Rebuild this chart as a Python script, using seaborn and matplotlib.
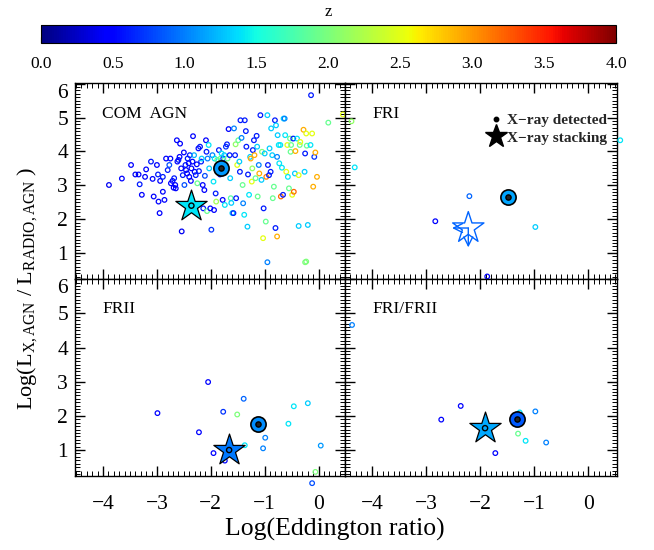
import numpy as np
import pandas as pd
import matplotlib
matplotlib.use("Agg")
import matplotlib.pyplot as plt
import seaborn as sns
from matplotlib.ticker import MultipleLocator
from matplotlib.lines import Line2D
from matplotlib.colors import Normalize
from matplotlib.cm import ScalarMappable

# ---------------- data ----------------
# COM AGN panel: log(Eddington ratio), log(Lx/Lradio), redshift
com_x = [-3.89, -3.65, -3.48, -3.40, -3.34, -3.32, -3.28, -3.22, -3.20, -3.11,
         -3.08, -3.06, -3.00, -2.98, -2.97, -2.95, -2.94, -2.89, -2.89, -2.86,
         -2.83, -2.80, -2.77, -2.75, -2.74, -2.71, -2.69, -2.68, -2.66, -2.65,
         -2.63, -2.62, -2.60, -2.58, -2.57, -2.55, -2.54, -2.52, -2.50, -2.49,
         -2.47, -2.46, -2.44, -2.43, -2.41, -2.40, -2.39, -2.37, -2.36, -2.34,
         -2.33, -2.31, -2.30, -2.28, -2.26, -2.25, -2.23, -2.22, -2.20, -2.18,
         -2.17, -2.15, -2.14, -2.12, -2.11, -2.09, -2.08, -2.07, -2.06, -2.04,
         -2.03, -2.01, -1.99, -1.97, -1.95, -1.94, -1.93, -1.91, -1.90, -1.88,
         -1.85, -1.83, -1.82, -1.80, -1.78, -1.77, -1.75, -1.74, -1.72, -1.70,
         -1.69, -1.67, -1.65, -1.64, -1.63, -1.62, -1.60, -1.58, -1.57, -1.55,
         -1.54, -1.53, -1.51, -1.49, -1.47, -1.46, -1.45, -1.43, -1.41, -1.40,
         -1.38, -1.37, -1.35, -1.34, -1.32, -1.31, -1.29, -1.27, -1.26, -1.24,
         -1.23, -1.22, -1.20, -1.19, -1.17, -1.15, -1.14, -1.13, -1.11, -1.10,
         -1.08, -1.06, -1.05, -1.03, -1.02, -1.00, -0.98, -0.97, -0.95, -0.94,
         -0.92, -0.91, -0.89, -0.88, -0.86, -0.85, -0.83, -0.81, -0.80, -0.79,
         -0.77, -0.77, -0.76, -0.74, -0.73, -0.71, -0.70, -0.68, -0.66, -0.65,
         -0.63, -0.62, -0.60, -0.58, -0.57, -0.55, -0.53, -0.52, -0.51, -0.49,
         -0.47, -0.46, -0.44, -0.43, -0.40, -0.37, -0.35, -0.34, -0.37, -0.28,
         -0.26, -0.25, -0.23, -0.22, -0.23, -0.20, -0.15, -0.14, -0.12, -0.10,
         -0.08, -0.06, -0.03, 0.18, 0.45, -0.95, -0.25]
com_y = [3.01, 3.20, 3.60, 3.32, 3.32, 3.03, 2.72, 3.25, 3.47, 3.70,
         3.19, 2.67, 3.60, 3.32, 2.52, 2.18, 3.13, 3.25, 2.81, 2.57,
         3.79, 3.45, 3.60, 3.79, 3.06, 3.13, 2.93, 3.21, 3.01, 2.91,
         4.33, 3.70, 3.75, 3.84, 4.23, 3.50, 1.64, 3.30, 3.97, 3.01,
         3.60, 3.45, 3.35, 3.79, 3.65, 3.25, 3.89, 3.13, 3.50, 3.70,
         4.45, 3.89, 3.40, 3.30, 3.62, 3.06, 4.09, 3.42, 4.14, 3.70,
         3.79, 3.01, 2.32, 2.86, 3.28, 4.33, 3.99, 2.24, 3.79, 4.19,
         3.50, 2.32, 1.69, 3.89, 3.11, 2.27, 3.79, 2.76, 2.52, 3.75,
         4.04, 3.32, 3.79, 3.94, 2.57, 3.79, 3.89, 2.42, 4.14, 4.21,
         3.79, 4.66, 3.89, 3.21, 2.62, 2.48, 2.18, 2.18, 4.68, 3.89,
         4.21, 2.62, 3.60, 4.33, 3.70, 3.40, 4.92, 4.40, 3.01, 2.47,
         2.13, 4.92, 4.60, 4.14, 1.78, 3.32, 2.72, 3.84, 3.79, 3.11,
         3.50, 4.04, 4.33, 3.89, 3.21, 4.46, 4.14, 2.67, 3.60, 3.35,
         5.07, 3.16, 3.99, 1.44, 2.32, 3.94, 1.93, 3.25, 5.07, 3.60,
         3.30, 4.09, 3.40, 4.68, 3.89, 2.62, 2.96, 4.92, 1.74, 4.77,
         1.49, 3.84, 4.48, 4.19, 3.65, 4.19, 2.67, 3.52, 2.72, 4.97,
         4.97, 4.48, 3.40, 4.19, 3.25, 2.91, 4.38, 3.99, 4.19, 2.72,
         4.38, 2.81, 3.35, 4.01, 4.38, 3.30, 4.19, 4.28, 1.80, 4.64,
         3.40, 3.94, 4.53, 4.17, 0.75, 1.83, 4.19, 5.66, 4.53, 2.96,
         3.84, 3.97, 3.25, 4.85, 5.09, 0.73, 0.73]
com_z = [0.4, 0.5, 0.5, 0.4, 0.5, 0.6, 0.5, 0.5, 0.5, 0.6,
         0.5, 0.5, 0.5, 0.6, 0.5, 0.5, 0.5, 0.6, 0.5, 0.5,
         0.5, 0.6, 0.8, 0.5, 0.5, 0.5, 0.5, 0.6, 0.5, 0.5,
         0.5, 0.5, 0.6, 0.5, 0.5, 0.5, 0.4, 0.6, 0.5, 0.8,
         0.6, 0.5, 0.5, 0.6, 0.5, 0.5, 0.6, 0.5, 0.5, 0.5,
         0.5, 1.2, 0.5, 0.6, 0.5, 1.9, 0.5, 0.6, 0.6, 0.6,
         1.3, 0.5, 0.6, 0.5, 0.8, 0.5, 0.6, 1.9, 1.0, 1.4,
         1.3, 0.5, 0.7, 1.0, 1.4, 0.5, 1.4, 0.6, 2.2, 1.9,
         0.6, 0.6, 1.9, 1.4, 0.5, 0.7, 1.3, 1.4, 0.7, 0.6,
         1.9, 0.5, 0.6, 1.3, 1.8, 1.3, 1.3, 0.6, 1.0, 0.6,
         2.1, 0.6, 2.5, 1.9, 1.3, 0.6, 0.6, 1.0, 1.9, 1.0,
         1.4, 0.6, 0.6, 0.6, 1.3, 0.6, 1.4, 1.3, 2.9, 2.5,
         2.1, 0.6, 0.6, 2.9, 1.9, 0.6, 1.3, 1.9, 1.0, 2.9,
         0.6, 1.3, 2.0, 2.5, 0.6, 1.3, 1.9, 3.1, 1.3, 0.6,
         0.6, 1.3, 0.6, 1.3, 1.3, 1.9, 1.9, 0.6, 0.6, 1.3,
         2.9, 1.0, 1.3, 1.4, 1.4, 1.4, 3.2, 1.4, 0.6, 1.3,
         1.0, 1.4, 2.5, 2.5, 1.4, 1.9, 1.9, 1.9, 1.9, 2.5,
         0.6, 3.2, 1.3, 2.9, 1.4, 2.5, 1.9, 2.5, 1.3, 2.9,
         1.3, 0.6, 2.5, 1.9, 2.0, 1.3, 1.4, 0.6, 2.5, 2.9,
         0.7, 2.9, 2.9, 1.9, 2.5, 1.0, 2.0]

# FRI panel
fri_x = [-4.38, -4.32, 0.59, -2.20, -2.83, -0.98, -1.87]
fri_y = [4.89, 3.53, 4.33, 2.68, 1.94, 1.77, 0.31]
fri_z = [2.1, 1.4, 1.4, 0.9, 0.5, 1.3, 0.5]

# FRII panel
frii_x = [-2.99, -2.05, -2.22, -1.77, -1.95, -1.74, -1.39, -1.51, -1.37,
          -0.99, -1.03, -0.56, -0.46, -0.20, 0.04, -0.06, -0.12]
frii_y = [2.08, 2.99, 1.52, 2.12, 0.91, 0.69, 2.50, 2.04, 1.14,
          1.36, 1.05, 1.77, 2.28, 2.37, 1.13, 0.36, 0.03]
frii_z = [0.5, 0.5, 0.5, 0.7, 0.5, 0.5, 0.9, 2.0, 1.4,
          1.0, 1.0, 1.4, 1.4, 1.3, 1.1, 2.0, 0.8]

# FRI/FRII panel
mix_x = [-4.37, -2.36, -2.72, -1.27, -0.98, -1.30, -1.16, -0.78, -1.72]
mix_y = [4.66, 2.29, 1.89, 2.10, 2.13, 1.48, 1.27, 1.22, 0.91]
mix_z = [1.0, 0.5, 0.5, 1.4, 1.0, 1.9, 1.4, 1.0, 0.5]

panel_names = ["COM  AGN", "FRI", "FRII", "FRI/FRII"]
# X-ray detected (stacked mean) points
det_x = [-1.81, -1.49, -1.13, -1.32]
det_y = [3.50, 2.67, 1.76, 1.90]
det_z = [1.1, 1.15, 1.05, 0.85]
# X-ray stacking points
stk_x = [-2.36, -2.22, -1.66, -1.91]
stk_y = [2.40, 1.74, 1.00, 1.64]
stk_z = [1.4, 0.9, 0.97, 1.16]
stk_upper = [False, True, False, False]
ul_dx = 0.30   # upper-limit arrow lengths
ul_dy = 0.57

cbar_ticks = [0.0, 0.5, 1.0, 1.5, 2.0, 2.5, 3.0, 3.5, 4.0]

# ---------------- style ----------------
sns.set_theme(style="white")
plt.rcParams["font.family"] = ["Liberation Serif", "DejaVu Serif"]
plt.rcParams["mathtext.fontset"] = "custom"
plt.rcParams["mathtext.rm"] = "Liberation Serif"
plt.rcParams["mathtext.it"] = "Liberation Serif:italic"
plt.rcParams["axes.edgecolor"] = "black"
plt.rcParams["axes.linewidth"] = 1.0

norm = Normalize(0, 4)
cmap = plt.get_cmap("jet")

fig = plt.figure(figsize=(6.54, 5.5), dpi=100)
W, H = 654.0, 550.0
L, M, R = 75 / W, 345 / W, 617 / W
T, D, B = 1 - 83 / H, 1 - 278.5 / H, 1 - 476 / H
positions = [[L, D, M - L, T - D], [M, D, R - M, T - D],
             [L, B, M - L, D - B], [M, B, R - M, D - B]]
xlims = [(-4.52, 0.49), (-4.50, 0.53), (-4.52, 0.49), (-4.50, 0.53)]
ylims = [(0.25, 6.02), (0.25, 6.02), (0.24, 6.02), (0.24, 6.02)]
scatter_sets = [(com_x, com_y, com_z), (fri_x, fri_y, fri_z),
                (frii_x, frii_y, frii_z), (mix_x, mix_y, mix_z)]


def open_points(ax, x, y, z, marker="o", s=11, lw=0.9, zorder=3):
    df = pd.DataFrame({"x": x, "y": y, "z": z})
    n0 = len(ax.collections)
    sns.scatterplot(data=df, x="x", y="y", hue="z", palette=cmap,
                    hue_norm=norm, s=s, marker=marker, linewidth=lw,
                    legend=False, ax=ax, clip_on=False, zorder=zorder)
    coll = ax.collections[n0]
    fc = coll.get_facecolors()
    coll.set_edgecolors(fc)
    coll.set_facecolors("none")
    coll.set_linewidths(lw)


def filled_point(ax, x, y, z, marker, s, lw, zorder):
    df = pd.DataFrame({"x": [x], "y": [y], "z": [z]})
    sns.scatterplot(data=df, x="x", y="y", hue="z", palette=cmap,
                    hue_norm=norm, s=s, marker=marker, edgecolor="black",
                    linewidth=lw, legend=False, ax=ax, clip_on=False,
                    zorder=zorder)


axes = []
for i in range(4):
    ax = fig.add_axes(positions[i])
    axes.append(ax)
    xs, ys, zs = scatter_sets[i]
    open_points(ax, xs, ys, zs)

    # X-ray detected circle
    filled_point(ax, det_x[i], det_y[i], det_z[i], "o", 120, 1.2, 6)
    ax.scatter([det_x[i]], [det_y[i]], s=14, facecolors="#222222",
               edgecolors="black", linewidths=1.0, zorder=7)

    # X-ray stacking star
    if stk_upper[i]:
        col = cmap(norm(stk_z[i]))
        open_points(ax, [stk_x[i]], [stk_y[i]], [stk_z[i]], marker="*",
                    s=560, lw=1.0, zorder=6)
        ax.annotate("", xy=(stk_x[i] - ul_dx, stk_y[i]),
                    xytext=(stk_x[i], stk_y[i]),
                    arrowprops=dict(arrowstyle="->", color=col, lw=1.0,
                                    mutation_scale=16, shrinkA=0, shrinkB=0),
                    zorder=6)
        ax.annotate("", xy=(stk_x[i], stk_y[i] - ul_dy),
                    xytext=(stk_x[i], stk_y[i]),
                    arrowprops=dict(arrowstyle="->", color=col, lw=1.0,
                                    mutation_scale=16, shrinkA=0, shrinkB=0),
                    zorder=6)
    else:
        filled_point(ax, stk_x[i], stk_y[i], stk_z[i], "*", 560, 0.9, 6)
        ax.scatter([stk_x[i]], [stk_y[i]], s=14, facecolors="none",
                   edgecolors="black", linewidths=1.0, zorder=7)

    ax.set_xlim(*xlims[i])
    ax.set_ylim(*ylims[i])
    ax.set_xlabel("")
    ax.set_ylabel("")
    ax.xaxis.set_major_locator(MultipleLocator(1))
    ax.xaxis.set_minor_locator(MultipleLocator(0.1))
    ax.set_yticks([1, 2, 3, 4, 5, 6])
    ax.yaxis.set_minor_locator(MultipleLocator(0.1))
    ax.tick_params(which="both", direction="in", top=True, right=True,
                   bottom=True, left=True, colors="black")
    ax.tick_params(which="major", length=7, width=1.0)
    ax.tick_params(which="minor", length=3.5, width=0.7)
    ax.tick_params(axis="x", labelsize=15.5, pad=14)
    ax.tick_params(axis="y", labelsize=15.5, pad=5)
    if i in (0, 2):
        ax.set_yticklabels(["1", "2", "3", "4", "5", "6"])
        for lbl in ax.get_yticklabels():
            if lbl.get_text() == "6":
                lbl.set_verticalalignment("top")
    else:
        ax.tick_params(axis="y", labelleft=False)
    if i in (0, 1):
        ax.tick_params(axis="x", labelbottom=False)
    for sp in ax.spines.values():
        sp.set_color("black")
        sp.set_linewidth(1.0)
    ax.text(0.1, 0.823, panel_names[i], transform=ax.transAxes,
            fontsize=12.5, va="baseline", ha="left", color="black")

# legend in FRI panel
handles = [Line2D([], [], marker="o", color="black", ls="", ms=3.2),
           Line2D([], [], marker="*", color="black", ls="", ms=17)]
axes[1].legend(handles, ["X\u2212ray detected", "X\u2212ray stacking"],
               loc="upper right", bbox_to_anchor=(0.965, 0.845),
               frameon=False, borderpad=0, borderaxespad=0,
               handletextpad=0.25, handlelength=1.0, labelspacing=0.25,
               prop={"family": "Liberation Serif", "weight": "bold",
                     "size": 11})

# axis labels
fig.text(335 / W, 1 - 529 / H, "Log(Eddington ratio)", ha="center",
         va="center", fontsize=18.5, color="black")
fig.text(27 / W, 1 - 288 / H,
         r"Log(L$_{\mathrm{X,AGN}}$ / L$_{\mathrm{RADIO,AGN}}$ )",
         ha="center", va="center", rotation=90, fontsize=16, color="black")

# colorbar
cax = fig.add_axes([41 / W, 1 - 43 / H, (616 - 41) / W, 18 / H])
sm = ScalarMappable(norm=norm, cmap=cmap)
cb = fig.colorbar(sm, cax=cax, orientation="horizontal")
cb.set_ticks(cbar_ticks)
cb.set_ticklabels(["%.1f" % t for t in cbar_ticks])
cax.xaxis.set_minor_locator(MultipleLocator(0.25))
cax.tick_params(which="both", direction="in", bottom=True, top=False,
                colors="black", labelsize=12.5, pad=9)
cax.tick_params(which="major", length=4, width=0.8)
cax.tick_params(which="minor", length=2, width=0.6)
cb.outline.set_edgecolor("black")
cb.outline.set_linewidth(0.8)
fig.text((41 + 616) / 2 / W, 1 - 12 / H, "z", ha="center", va="center",
         fontsize=12, color="black")

fig.savefig("out.png", dpi=100)
